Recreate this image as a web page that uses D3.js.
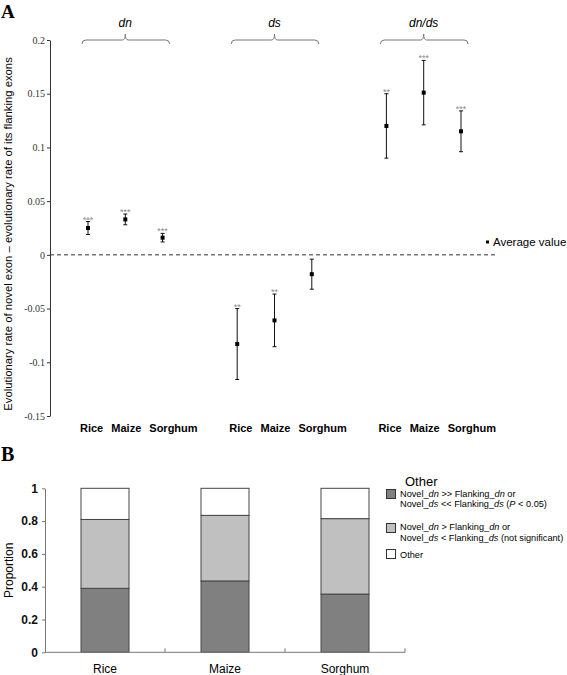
<!DOCTYPE html>
<html><head><meta charset="utf-8">
<script src="https://cdn.jsdelivr.net/npm/d3@7"></script>
<style>
html,body{margin:0;padding:0;background:#fff;}
svg{display:block;}
text{font-family:"Liberation Sans",Arial,sans-serif;}
</style></head>
<body>
<svg id="chart" width="567" height="675"></svg>
<script>
// ---------- Data ----------
const groups = ["dn", "ds", "dn/ds"];
const species = ["Rice", "Maize", "Sorghum"];
const dnMean = [0.025, 0.033, 0.016];
const dnErr = [0.006, 0.005, 0.004];
const dsMean = [-0.083, -0.061, -0.018];
const dsErr = [0.033, 0.0245, 0.014];
const dndsMean = [0.120, 0.151, 0.115];
const dndsErr = [0.030, 0.030, 0.019];
const dnStars = ["***", "***", "***"];
const dsStars = ["**", "**", ""];
const dndsStars = ["**", "***", "***"];
const yTicksA = [0.2, 0.15, 0.1, 0.05, 0, -0.05, -0.1, -0.15];

const propSig = [0.39, 0.435, 0.355];
const propNonSig = [0.42, 0.40, 0.46];
const propOther = [0.19, 0.165, 0.185];
const yTicksB = [0, 0.2, 0.4, 0.6, 0.8, 1];
const legendItems = [
  {key: "sig", fill: "#808080", lines: [["Novel_", "dn", " >> Flanking_", "dn", " or"], ["Novel_", "ds", " << Flanking_", "ds", " (", "P", " < 0.05)"]]},
  {key: "nonsig", fill: "#c0c0c0", lines: [["Novel_", "dn", " > Flanking_", "dn", " or"], ["Novel_", "ds", " < Flanking_", "ds", " (not significant)"]]},
  {key: "other", fill: "#ffffff", lines: [["Other"]]}
];

// ---------- Build ----------
const svg = d3.select("#chart");
const SERIF = "'Liberation Serif','Times New Roman',serif";
const means = [dnMean, dsMean, dndsMean];
const errs = [dnErr, dsErr, dndsErr];
const stars = [dnStars, dsStars, dndsStars];
const points = [];
groups.forEach((g, gi) => species.forEach((s, si) => {
  points.push({group: g, gi, species: s, si, slot: gi * 4 + si, mean: means[gi][si], err: errs[gi][si], star: stars[gi][si]});
}));

// ----- Panel A -----
const yA = d3.scaleLinear().domain([-0.15, 0.2]).range([416, 40]);
const xA = d3.scaleLinear().domain([0, 10]).range([88, 461]);
const axisX = 50;

svg.append("text").attr("x", 1).attr("y", 18).text("A")
  .style("font-family", SERIF).style("font-weight", "bold").style("font-size", "19px");

const gAx = svg.append("g").attr("transform", `translate(${axisX},0)`)
  .call(d3.axisLeft(yA).tickValues(yTicksA).tickSize(3).tickSizeOuter(0));
gAx.select(".domain").attr("stroke", "#333");
gAx.selectAll(".tick line").attr("stroke", "#333");
gAx.selectAll(".tick text").style("font-family", SERIF)
  .style("font-size", "10px").attr("fill", "#333").attr("x", -5)
  .text(d => d < 0 ? "-" + Math.abs(d) : String(d));

// zero line
svg.append("line").attr("x1", axisX).attr("x2", 497).attr("y1", yA(0)).attr("y2", yA(0))
  .attr("stroke", "#333").attr("stroke-dasharray", "4,3").attr("stroke-width", 1);

// y label
svg.append("text").attr("transform", `translate(12,234) rotate(-90)`)
  .attr("text-anchor", "middle").style("font-size", "11.3px")
  .text("Evolutionary rate of novel exon \u2013 evolutionary rate of its flanking exons");

// braces
groups.forEach((g, gi) => {
  const x0 = xA(gi * 4) - 6, x1 = xA(gi * 4 + 2) + 7, cx = xA(gi * 4 + 1), y = yA(0.2);
  const p = `M${x0},${y + 4} Q${x0},${y} ${x0 + 4},${y} L${cx - 3},${y} Q${cx},${y} ${cx},${y - 6} Q${cx},${y} ${cx + 3},${y} L${x1 - 4},${y} Q${x1},${y} ${x1},${y + 4}`;
  svg.append("path").attr("d", p).attr("fill", "none").attr("stroke", "#777").attr("stroke-width", 1);
  svg.append("text").attr("x", cx).attr("y", 27).attr("text-anchor", "middle")
    .style("font-size", "12px").style("font-style", "italic").text(g);
  // species labels
  svg.append("text").attr("x", xA(gi * 4) - 8).attr("y", 432)
    .style("font-size", "11px").style("font-weight", "bold").style("word-spacing", "5px")
    .text(species.join(" "));
});

// error bars
const eb = svg.append("g").selectAll("g").data(points).join("g");
eb.append("line").attr("x1", d => xA(d.slot)).attr("x2", d => xA(d.slot))
  .attr("y1", d => yA(d.mean + d.err)).attr("y2", d => yA(d.mean - d.err)).attr("stroke", "#111").attr("stroke-width", 1);
eb.append("line").attr("x1", d => xA(d.slot) - 2).attr("x2", d => xA(d.slot) + 2)
  .attr("y1", d => yA(d.mean + d.err)).attr("y2", d => yA(d.mean + d.err)).attr("stroke", "#111");
eb.append("line").attr("x1", d => xA(d.slot) - 2).attr("x2", d => xA(d.slot) + 2)
  .attr("y1", d => yA(d.mean - d.err)).attr("y2", d => yA(d.mean - d.err)).attr("stroke", "#111");
eb.append("rect").attr("x", d => xA(d.slot) - 2).attr("y", d => yA(d.mean) - 2).attr("width", 4).attr("height", 4).attr("fill", "#000");
eb.append("text").attr("x", d => xA(d.slot)).attr("y", d => yA(d.mean + d.err) + 1)
  .attr("text-anchor", "middle").style("font-size", "9px").attr("fill", "#888").text(d => d.star);

// Average value legend
svg.append("rect").attr("x", 486).attr("y", 240.5).attr("width", 3).attr("height", 3).attr("fill", "#000");
svg.append("text").attr("x", 493).attr("y", 246).style("font-size", "11.5px").text("Average value");

// ----- Panel B -----
svg.append("text").attr("x", 1).attr("y", 461).text("B")
  .style("font-family", SERIF).style("font-weight", "bold").style("font-size", "20px");

const yB = d3.scaleLinear().domain([0, 1]).range([652.3, 488.3]);
const xB = d3.scaleBand().domain(species).range([45, 405]).paddingInner(0.6).paddingOuter(0.3);
const stackData = species.map((s, i) => ({species: s, sig: propSig[i], nonsig: propNonSig[i], other: propOther[i]}));
const stack = d3.stack().keys(["sig", "nonsig", "other"])(stackData);
const fills = {sig: "#808080", nonsig: "#c0c0c0", other: "#ffffff"};

svg.append("g").selectAll("g").data(stack).join("g").attr("fill", d => fills[d.key])
  .selectAll("rect").data(d => d).join("rect")
  .attr("x", d => xB(d.data.species)).attr("width", xB.bandwidth())
  .attr("y", d => yB(d[1])).attr("height", d => yB(d[0]) - yB(d[1]))
  .attr("stroke", "#444").attr("stroke-width", 1);

const gBy = svg.append("g").attr("transform", "translate(45,0)")
  .call(d3.axisLeft(yB).tickValues(yTicksB).tickSize(3).tickSizeOuter(0).tickFormat(d => String(+d.toFixed(1))));
gBy.select(".domain").attr("stroke", "#777");
gBy.selectAll(".tick line").attr("stroke", "#777");
gBy.selectAll(".tick text").style("font-size", "12px").style("font-weight", "bold").attr("fill", "#111").attr("x", -7);

// x axis
const xAxisG = svg.append("g");
xAxisG.append("line").attr("x1", 45).attr("x2", 405).attr("y1", yB(0)).attr("y2", yB(0)).attr("stroke", "#777");
const step = xB.step();
const bounds = species.map((s, i) => xB(s) + xB.bandwidth() / 2 + step / 2);
xAxisG.selectAll("line.t").data(bounds).join("line").attr("class", "t")
  .attr("x1", d => d).attr("x2", d => d).attr("y1", yB(0)).attr("y2", yB(0) - 4).attr("stroke", "#777");
xAxisG.selectAll("text").data(species).join("text")
  .attr("x", d => xB(d) + xB.bandwidth() / 2).attr("y", 673).attr("text-anchor", "middle")
  .style("font-size", "12px").text(d => d);

svg.append("text").attr("transform", `translate(13,${(yB(0) + yB(1)) / 2}) rotate(-90)`)
  .attr("text-anchor", "middle").style("font-size", "12px").text("Proportion");

// legend
svg.append("text").attr("x", 405).attr("y", 486).style("font-size", "13px").text("Other");
const legY = [489, 523, 549];
const lineY = [[496.5, 507], [530, 541], [557.5]];
legendItems.forEach((it, i) => {
  svg.append("rect").attr("x", 386.5).attr("y", legY[i] + 0.5).attr("width", 9).attr("height", 9)
    .attr("fill", it.fill).attr("stroke", "#333");
  it.lines.forEach((parts, li) => {
    const t = svg.append("text").attr("x", 400).attr("y", lineY[i][li]).style("font-size", "9.2px").attr("xml:space", "preserve");
    parts.forEach(p => {
      const italic = (p === "dn" || p === "ds" || p === "P");
      t.append("tspan").style("font-style", italic ? "italic" : "normal").text(p);
    });
  });
});
</script>
</body></html>
